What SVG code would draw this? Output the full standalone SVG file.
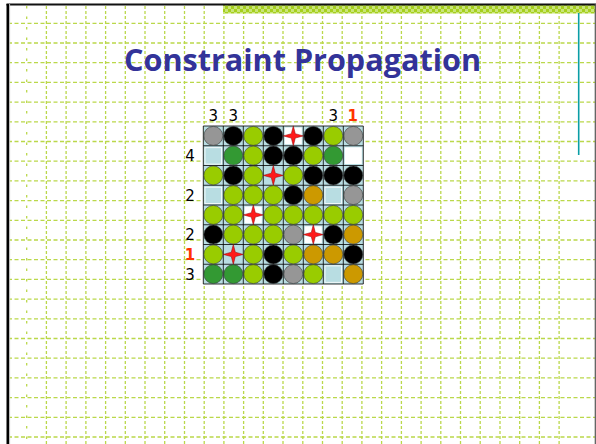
<svg xmlns="http://www.w3.org/2000/svg" width="596" height="444" viewBox="0 0 596 444">
<defs>
<style>
.bg{fill:#ffffff}
.gv{stroke:#bad84a;stroke-width:1.3;stroke-dasharray:3 2;fill:none}
.gvs{stroke:#bad84a;stroke-width:1.3;stroke-dasharray:2.5 8;fill:none}
.gh{stroke:#bad84a;stroke-width:1.3;stroke-dasharray:4 2.5;fill:none}
.title{font-family:"Comic Sans MS","Open Sans",sans-serif;font-weight:700;font-size:31px;fill:#333399}
.lbl{font-family:"DejaVu Sans","Liberation Sans",sans-serif;font-size:15px;fill:#000}
.red{font-family:"DejaVu Sans","Liberation Sans",sans-serif;font-size:15px;font-weight:700;fill:#ff3300}
.cell{fill:#b8dde2}
.wcell{fill:#ffffff}
.c{stroke:#333;stroke-width:0.6}
.lg{fill:#99cc00}
.dg{fill:#339933}
.bk{fill:#000000}
.gr{fill:#969696}
.or{fill:#cc9900}
.star{fill:#ff1a1a;stroke:#8b0000;stroke-width:0.5}
.grid{stroke:#000;stroke-width:0.8;fill:none}
</style>
<pattern id="strip" width="6" height="6" patternUnits="userSpaceOnUse">
<rect width="6" height="6" fill="#a6cf1e"/>
<path d="M0 0h3v3H0zM3 3h3v3H3z" fill="#c9e57a"/>
</pattern>
<path id="st" d="M0,-10 L2,-2.2 L10,0 L2,2.2 L0,10 L-2,2.2 L-10,0 L-2,-2.2 Z"/>
</defs>
<rect class="bg" x="0" y="0" width="596" height="444"/>

<g id="background-grid">
<path class="gvs" d="M26.7 6V444"/>
<path class="gv" d="M46.4 6V444M66.1 6V444M85.9 6V444M105.6 6V444M125.3 6V444M145 6V444M164.7 6V444M184.5 6V444M204.2 6V444M223.9 6V444M243.6 6V444M263.3 6V444M283 6V444M302.8 6V444M322.5 6V444M342.2 6V444M361.9 6V444M381.6 6V444M401.4 6V444M421.1 6V444M440.8 6V444M460.5 6V444M480.2 6V444M500 6V444M519.7 6V444M539.4 6V444M559.1 6V444"/>
<path class="gh" d="M8 23.3H595M8 43H595M8 62.7H595M8 82.4H595M8 102.1H595M8 121.8H595M8 141.5H595M8 161.2H595M8 180.9H595M8 200.6H595M8 220.3H595M8 240H595M8 259.7H595M8 279.4H595M8 299.1H595M8 318.8H595M8 338.5H595M8 358.2H595M8 377.9H595M8 397.6H595M8 417.3H595M8 437H595"/>
</g>

<g id="frame">
<rect x="223" y="5" width="373" height="8.5" fill="url(#strip)"/>
<path d="M6.5 4.5H596" stroke="#111" stroke-width="2"/>
<path d="M7.8 4V444" stroke="#000" stroke-width="2.6"/>
<path d="M9.6 4V444" stroke="#bbb" stroke-width="1"/>
<path d="M595.3 4V444" stroke="#555" stroke-width="1.2"/>
<path d="M578.7 13V155" stroke="#0a9ea6" stroke-width="1.6"/>
</g>

<g id="title">
<text class="title" x="302.5" y="70.5" text-anchor="middle" textLength="357" lengthAdjust="spacingAndGlyphs">Constraint Propagation</text>
</g>

<g id="labels">
<text class="lbl" x="213.3" y="121" text-anchor="middle">3</text>
<text class="lbl" x="233.3" y="121" text-anchor="middle">3</text>
<text class="lbl" x="333.3" y="121" text-anchor="middle">3</text>
<text class="red" x="352.8" y="121" text-anchor="middle">1</text>
<text class="lbl" x="190" y="161" text-anchor="middle">4</text>
<text class="lbl" x="190" y="200.5" text-anchor="middle">2</text>
<text class="lbl" x="190" y="240" text-anchor="middle">2</text>
<text class="red" x="190" y="259.8" text-anchor="middle">1</text>
<text class="lbl" x="190" y="279.5" text-anchor="middle">3</text>
</g>

<g id="board">
<rect class="cell" x="203.3" y="126" width="160" height="158"/>
<g id="white-cells">
<rect class="wcell" x="284.8" y="127.5" width="17" height="16.75"/>
<rect class="wcell" x="344.8" y="147.25" width="17" height="16.75"/>
<rect class="wcell" x="244.8" y="206.5" width="17" height="16.75"/>
<rect class="wcell" x="304.8" y="226.25" width="17" height="16.75"/>
</g>
<g id="inner-lines" stroke="#ffffff" stroke-width="0.8" fill="none">
<rect x="205" y="147.7" width="16.6" height="16.4"/>
<rect x="205" y="187.2" width="16.6" height="16.4"/>
<rect x="325" y="187.2" width="16.6" height="16.4"/>
<rect x="325" y="265.9" width="16.6" height="16.4"/>
</g>
<path class="grid" d="M203.3 126H363.3M203.3 145.75H363.3M203.3 165.5H363.3M203.3 185.25H363.3M203.3 205H363.3M203.3 224.75H363.3M203.3 244.5H363.3M203.3 264.25H363.3M203.3 284H363.3M203.3 126V284M223.3 126V284M243.3 126V284M263.3 126V284M283.3 126V284M303.3 126V284M323.3 126V284M343.3 126V284M363.3 126V284"/>

<g id="row0">
<circle class="c gr" cx="213.3" cy="135.9" r="9.5"/>
<circle class="c bk" cx="233.3" cy="135.9" r="9.5"/>
<circle class="c lg" cx="253.3" cy="135.9" r="9.5"/>
<circle class="c bk" cx="273.3" cy="135.9" r="9.5"/>
<use href="#st" class="star" transform="translate(293.3 135.9)"/>
<circle class="c bk" cx="313.3" cy="135.9" r="9.5"/>
<circle class="c lg" cx="333.3" cy="135.9" r="9.5"/>
<circle class="c gr" cx="353.3" cy="135.9" r="9.5"/>
</g>
<g id="row1">
<circle class="c dg" cx="233.3" cy="155.6" r="9.5"/>
<circle class="c lg" cx="253.3" cy="155.6" r="9.5"/>
<circle class="c bk" cx="273.3" cy="155.6" r="9.5"/>
<circle class="c bk" cx="293.3" cy="155.6" r="9.5"/>
<circle class="c lg" cx="313.3" cy="155.6" r="9.5"/>
<circle class="c dg" cx="333.3" cy="155.6" r="9.5"/>
</g>
<g id="row2">
<circle class="c lg" cx="213.3" cy="175.4" r="9.5"/>
<circle class="c bk" cx="233.3" cy="175.4" r="9.5"/>
<circle class="c lg" cx="253.3" cy="175.4" r="9.5"/>
<use href="#st" class="star" transform="translate(273.3 175.4)"/>
<circle class="c lg" cx="293.3" cy="175.4" r="9.5"/>
<circle class="c bk" cx="313.3" cy="175.4" r="9.5"/>
<circle class="c bk" cx="333.3" cy="175.4" r="9.5"/>
<circle class="c bk" cx="353.3" cy="175.4" r="9.5"/>
</g>
<g id="row3">
<circle class="c lg" cx="233.3" cy="195.1" r="9.5"/>
<circle class="c lg" cx="253.3" cy="195.1" r="9.5"/>
<circle class="c lg" cx="273.3" cy="195.1" r="9.5"/>
<circle class="c bk" cx="293.3" cy="195.1" r="9.5"/>
<circle class="c or" cx="313.3" cy="195.1" r="9.5"/>
<circle class="c gr" cx="353.3" cy="195.1" r="9.5"/>
</g>
<g id="row4">
<circle class="c lg" cx="213.3" cy="214.9" r="9.5"/>
<circle class="c lg" cx="233.3" cy="214.9" r="9.5"/>
<use href="#st" class="star" transform="translate(253.3 214.9)"/>
<circle class="c lg" cx="273.3" cy="214.9" r="9.5"/>
<circle class="c lg" cx="293.3" cy="214.9" r="9.5"/>
<circle class="c lg" cx="313.3" cy="214.9" r="9.5"/>
<circle class="c lg" cx="333.3" cy="214.9" r="9.5"/>
<circle class="c lg" cx="353.3" cy="214.9" r="9.5"/>
</g>
<g id="row5">
<circle class="c bk" cx="213.3" cy="234.6" r="9.5"/>
<circle class="c lg" cx="233.3" cy="234.6" r="9.5"/>
<circle class="c lg" cx="253.3" cy="234.6" r="9.5"/>
<circle class="c lg" cx="273.3" cy="234.6" r="9.5"/>
<circle class="c gr" cx="293.3" cy="234.6" r="9.5"/>
<use href="#st" class="star" transform="translate(313.3 234.6)"/>
<circle class="c bk" cx="333.3" cy="234.6" r="9.5"/>
<circle class="c or" cx="353.3" cy="234.6" r="9.5"/>
</g>
<g id="row6">
<circle class="c lg" cx="213.3" cy="254.4" r="9.5"/>
<use href="#st" class="star" transform="translate(233.3 254.4)"/>
<circle class="c lg" cx="253.3" cy="254.4" r="9.5"/>
<circle class="c bk" cx="273.3" cy="254.4" r="9.5"/>
<circle class="c lg" cx="293.3" cy="254.4" r="9.5"/>
<circle class="c or" cx="313.3" cy="254.4" r="9.5"/>
<circle class="c or" cx="333.3" cy="254.4" r="9.5"/>
<circle class="c bk" cx="353.3" cy="254.4" r="9.5"/>
</g>
<g id="row7">
<circle class="c dg" cx="213.3" cy="274.1" r="9.5"/>
<circle class="c dg" cx="233.3" cy="274.1" r="9.5"/>
<circle class="c lg" cx="253.3" cy="274.1" r="9.5"/>
<circle class="c bk" cx="273.3" cy="274.1" r="9.5"/>
<circle class="c gr" cx="293.3" cy="274.1" r="9.5"/>
<circle class="c lg" cx="313.3" cy="274.1" r="9.5"/>
<circle class="c or" cx="353.3" cy="274.1" r="9.5"/>
</g>
</g>
</svg>
